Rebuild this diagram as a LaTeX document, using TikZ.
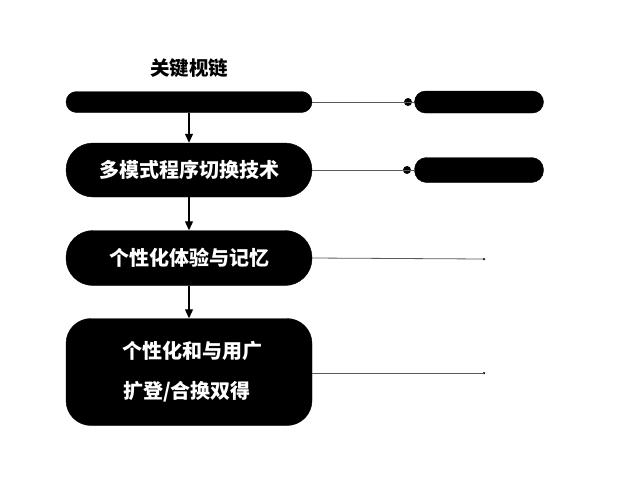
\documentclass[tikz,border=0pt]{standalone}
\usepackage{fontspec}
\newfontfamily\cjk{Noto Sans CJK SC Black}
\usetikzlibrary{arrows.meta,positioning}
\begin{document}
\begin{tikzpicture}[x=1pt,y=-1pt,
  pill/.style={fill=black,draw=black,rounded corners=#1,inner sep=0pt},
  txt/.style={text=white,font=\cjk\fontsize{20}{24}\selectfont,inner sep=0pt},
  flow/.style={-{Triangle[length=9pt,width=8pt]},line width=1.2pt,black},
  link/.style={draw=gray!70!black,line width=0.8pt},
  bigdot/.style={circle,fill=black,inner sep=0pt,minimum size=8pt},
  smalldot/.style={circle,fill=black,inner sep=0pt,minimum size=2.5pt}]
\useasboundingbox (0,0) rectangle (640,480);
% title
\node[font=\cjk\fontsize{19.5}{22}\selectfont,inner sep=0pt] (title) at (189,68) {关键枧链};
% left boxes
\node[pill=10.5pt,minimum width=246pt,minimum height=21pt] (b1) at (189,102) {};
\node[pill=27pt,minimum width=246pt,minimum height=54pt,txt] (b2) at (189,170) {多模式程序切换技术};
\node[pill=27pt,minimum width=246pt,minimum height=55pt,txt] (b3) at (189,258) {个性化体验与记忆};
\node[pill=25pt,minimum width=246pt,minimum height=107pt] (b4) at (189,372) {};
\node[txt] (t4a) at (192,351) {个性化和与用广};
\node[txt] (t4b) at (187,392) {扩登/合换双得};
% arrows
\draw[flow] (b1.south) -- (b2.north);
\draw[flow] (b2.south) -- (b3.north);
\draw[flow] (b3.south) -- (b4.north);
% right pills
\node[pill=11pt,minimum width=129pt,minimum height=22pt] (r1) at (479,102) {};
\node[pill=12pt,minimum width=129pt,minimum height=25pt] (r2) at (479,170) {};
\node[bigdot] (d1) at (408,102) {};
\node[bigdot] (d2) at (407,170) {};
\coordinate (e3) at (484,259);
\coordinate (e4) at (484,373);
\node[smalldot] (s3) at (e3) {};
\node[smalldot] (s4) at (e4) {};
% links
\draw[link] (b1.east) -- (d1.center);
\draw[link] (d1.center) -- (r1.west);
\draw[link] (b2.east) -- (d2.center);
\draw[link] (d2.center) -- (r2.west);
\draw[link] (b3.east) -- (s3.center);
\draw[link] (b4.east |- e4) -- (s4.center);
\end{tikzpicture}
\end{document}
